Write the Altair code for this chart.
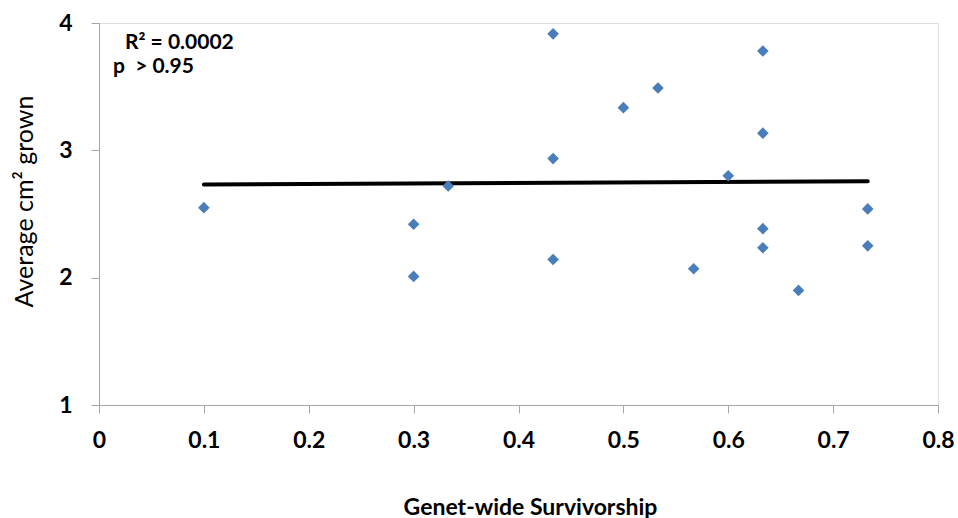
import altair as alt
import pandas as pd

# Genet-wide survivorship vs. average area grown per genet
survivorship = [0.100, 0.300, 0.300, 0.333, 0.433, 0.433, 0.433, 0.500, 0.533,
                0.567, 0.600, 0.633, 0.633, 0.633, 0.633, 0.667, 0.733, 0.733]
growth_cm2 = [2.55, 2.42, 2.01, 2.72, 3.915, 2.935, 2.143, 3.335, 3.49,
              2.07, 2.80, 3.78, 3.135, 2.385, 2.235, 1.90, 2.54, 2.25]

# Linear trendline endpoints (over the observed survivorship range)
trend_x = [0.100, 0.733]
trend_y = [2.731, 2.757]

# Fit statistics shown in the upper-left corner
stats_lines = ["R² = 0.0002", "p\u00a0 > 0.95"]

points = pd.DataFrame({"surv": survivorship, "growth": growth_cm2})
trend = pd.DataFrame({"surv": trend_x, "growth": trend_y})

FONT = "Lato"
AXIS_GREY = "#a6a6a6"

x_enc = alt.X(
    "surv:Q",
    scale=alt.Scale(domain=[0, 0.8], nice=False, zero=False),
    axis=alt.Axis(
        title="Genet-wide Survivorship",
        values=[0, 0.1, 0.2, 0.3, 0.4, 0.5, 0.6, 0.7, 0.8],
        labelExpr="datum.value == 0 ? '0' : format(datum.value, '.1f')",
        grid=False,
        domainColor=AXIS_GREY, tickColor=AXIS_GREY, tickSize=8,
        labelFont=FONT, labelFontSize=23, labelFontWeight="bold", labelColor="black",
        labelPadding=16, labelFlush=False,
        titleFont=FONT, titleFontSize=23, titleFontWeight="bold", titleColor="black",
        titleBaseline="alphabetic", titleY=109, titleX=431, titleAlign="center",
    ),
)
y_enc = alt.Y(
    "growth:Q",
    scale=alt.Scale(domain=[1, 4], nice=False, zero=False),
    axis=alt.Axis(
        title="Average cm² grown",
        values=[1, 2, 3, 4],
        format="d",
        grid=False,
        domainColor=AXIS_GREY, tickColor=AXIS_GREY, tickSize=8,
        labelFont=FONT, labelFontSize=23, labelFontWeight="bold", labelColor="black",
        labelPadding=19, labelFlush=False,
        titleFont=FONT, titleFontSize=25, titleFontWeight="normal", titleColor="black",
        titleAngle=270, titleBaseline="alphabetic", titleAlign="center",
        titleX=-67, titleY=178,
    ),
)

scatter = alt.Chart(points).mark_point(
    shape="diamond", filled=True, size=135, color="#4a7ebb", opacity=1
).encode(x=x_enc, y=y_enc)

line = alt.Chart(trend).mark_line(
    color="black", strokeWidth=4, strokeCap="round"
).encode(x="surv:Q", y="growth:Q")

text_style = dict(font=FONT, fontSize=21, fontWeight="bold", align="left",
                  baseline="alphabetic", color="black")

r2_text = alt.Chart(pd.DataFrame({"t": [stats_lines[0]]})).mark_text(**text_style).encode(
    x=alt.value(26), y=alt.value(26), text="t:N")

p_text = alt.Chart(pd.DataFrame({"t": [stats_lines[1]]})).mark_text(**text_style).encode(
    x=alt.value(14), y=alt.value(50), text="t:N")

chart = alt.layer(line, scatter, r2_text, p_text).properties(
    width=839, height=382,
    autosize=alt.AutoSizeParams(type="none"),
    padding={"left": 99, "top": 23, "right": 20, "bottom": 113},
).configure_view(stroke=None).configure(background="white")

chart.save("out.html", embed_options={"renderer": "svg", "actions": False})
